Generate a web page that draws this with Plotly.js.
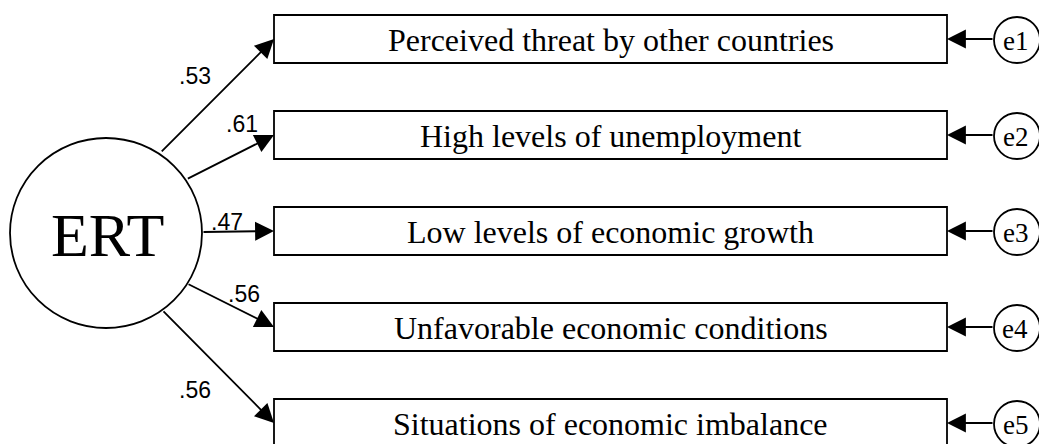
<!DOCTYPE html>
<html>
<head>
<meta charset="utf-8">
<script src="https://cdn.plot.ly/plotly-3.0.1.min.js"></script>
<style>html,body{margin:0;padding:0;background:#fff;}#chart{width:1039px;height:444px;}</style>
</head>
<body>
<div id="chart"></div>
<script>
// ---- data ----
const latent = "ERT";
const indicators = [
  "Perceived threat by other countries",
  "High levels of unemployment",
  "Low levels of economic growth",
  "Unfavorable economic conditions",
  "Situations of economic imbalance"
];
const loadings = [0.53, 0.61, 0.47, 0.56, 0.56];
const errors = ["e1", "e2", "e3", "e4", "e5"];

// ---- geometry (layout only) ----
const W = 1039, H = 444;
const latC = {x: 106, y: 232, r: 96};
const boxL = 274, boxR = 947, boxTop0 = 15, boxStep = 96, boxH = 48;
const errC = {x: 1017, r: 23};
const startAngles = [-55.6, -33.2, 0, 32.4, 54.3];
const labelOffsets = [[-22,-20],[11.5,-33],[-11,-10],[13,-11],[-23,23.5]];

const fmt = v => v.toFixed(2).replace(/^0/, "");

const shapes = [];
const annotations = [];
const lineStyle = {color: "#000", width: 1.8};
const arrowStyle = {showarrow: true, arrowhead: 2, arrowsize: 2.1, arrowwidth: 1.8, arrowcolor: "#000", standoff: 0};

// latent circle
shapes.push({type: "circle", xref: "x", yref: "y",
  x0: latC.x - latC.r, x1: latC.x + latC.r, y0: latC.y - latC.r + 2, y1: latC.y + latC.r,
  line: lineStyle, fillcolor: "rgba(0,0,0,0)"});
annotations.push({x: latC.x + 1, y: latC.y + 3, xref: "x", yref: "y", text: latent, showarrow: false,
  font: {family: "Liberation Serif, Times New Roman, serif", size: 62, color: "#000"}});

indicators.forEach((name, i) => {
  const top = boxTop0 + i * boxStep;
  const cy = top + boxH / 2;
  // indicator box
  shapes.push({type: "rect", xref: "x", yref: "y", x0: boxL, x1: boxR, y0: top, y1: top + boxH,
    line: lineStyle, fillcolor: "rgba(0,0,0,0)"});
  annotations.push({x: (boxL + boxR) / 2, y: cy + 1, xref: "x", yref: "y", text: name, showarrow: false,
    font: {family: "Liberation Serif, Times New Roman, serif", size: 32, color: "#000"}});
  // error circle
  shapes.push({type: "circle", xref: "x", yref: "y",
    x0: errC.x - errC.r, x1: errC.x + errC.r, y0: cy + 1 - errC.r, y1: cy + 1 + errC.r,
    line: lineStyle, fillcolor: "rgba(0,0,0,0)"});
  annotations.push({x: errC.x - 2, y: cy + 2, xref: "x", yref: "y", text: errors[i], showarrow: false,
    font: {family: "Liberation Serif, Times New Roman, serif", size: 27, color: "#000"}});
  // error arrow
  annotations.push(Object.assign({x: boxR, y: cy, ax: errC.x - errC.r, ay: cy, xref: "x", yref: "y", axref: "x", ayref: "y",
    text: ""}, arrowStyle));
  // loading arrow
  const a = startAngles[i] * Math.PI / 180;
  const sx = latC.x + latC.r * Math.cos(a), sy = latC.y + latC.r * Math.sin(a);
  annotations.push(Object.assign({x: boxL, y: cy, ax: sx, ay: sy, xref: "x", yref: "y", axref: "x", ayref: "y",
    text: ""}, arrowStyle));
  // loading label
  const mx = (sx + boxL) / 2 + labelOffsets[i][0], my = (sy + cy) / 2 + labelOffsets[i][1];
  annotations.push({x: mx, y: my, xref: "x", yref: "y", text: fmt(loadings[i]), showarrow: false,
    font: {family: "Liberation Sans, Arial, sans-serif", size: 23, color: "#000"}});
});

const layout = {
  width: W, height: H,
  margin: {l: 0, r: 0, t: 0, b: 0},
  paper_bgcolor: "#fff", plot_bgcolor: "#fff",
  showlegend: false,
  xaxis: {range: [0, W], visible: false, fixedrange: true},
  yaxis: {range: [H, 0], visible: false, fixedrange: true},
  shapes: shapes,
  annotations: annotations
};

Plotly.newPlot("chart", [{x: [], y: [], type: "scatter", hoverinfo: "skip"}], layout, {staticPlot: true, displayModeBar: false});
</script>
</body>
</html>
